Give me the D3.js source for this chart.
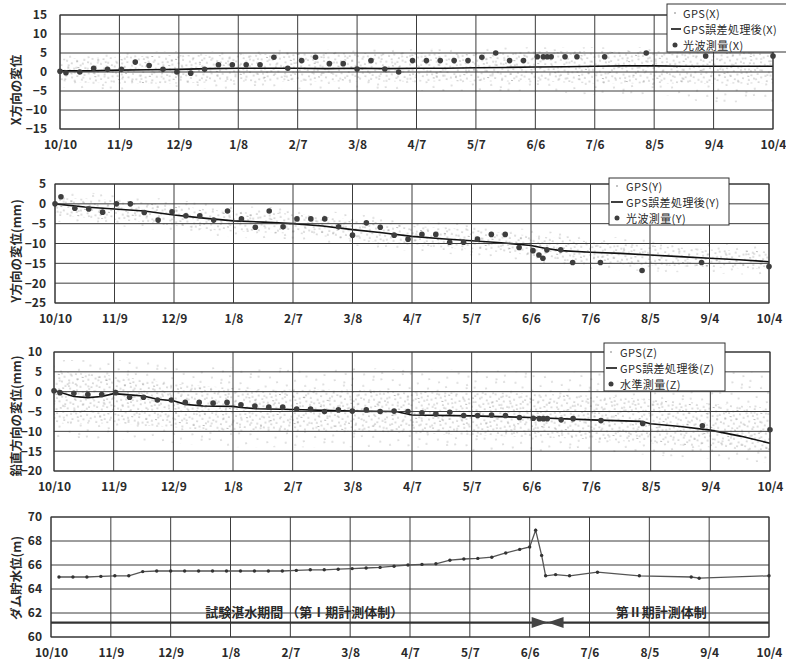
<!DOCTYPE html>
<html>
<head>
<meta charset="utf-8">
<script src="https://cdnjs.cloudflare.com/ajax/libs/d3/7.8.5/d3.min.js"></script>
<style>
  body { margin: 0; background: #fff; }
  svg text { font-family: "Noto Sans CJK JP", "DejaVu Sans", sans-serif; fill: #2a2a2a; }
</style>
</head>
<body>
<div id="chart"></div>
<script>
// x tick labels (every 30 days, 2003/10/10 - 2004/10/4)
const tickLabels = ["10/10", "11/9", "12/9", "1/8", "2/7", "3/8", "4/7", "5/7", "6/6", "7/6", "8/5", "9/4", "10/4"];

// raw GPS scatter, read as envelopes at each tick date
const xCloudHi = [3.5, 4, 4.5, 4.5, 5, 5, 5, 5, 5.5, 5.5, 5.5, 5.5, 5.5];
const xCloudLo = [-2.5, -3, -3, -2.5, -2.5, -2.5, -2.5, -2.5, -2.5, -3, -3, -3, -3];
const xCloudHiW = [4.5, 5, 5.5, 5.5, 6, 6, 6, 6.5, 6.5, 6.5, 6.5, 6.5, 6.5];
const xCloudLoW = [-4, -5, -4.5, -4.5, -4.5, -4.5, -5, -5, -5, -6, -6, -8, -8];

const yCloudHi = [1.5, 1, -0.5, -2, -2.5, -4, -5.5, -6.5, -8, -9.5, -10.5, -11.5, -12];
const yCloudLo = [-3, -4, -5.5, -7, -7.5, -9, -10.5, -11.5, -13, -15, -15.5, -16, -16.5];
const yCloudHiW = [3, 2.5, 1, -0.5, -1, -2.5, -4, -5, -6.5, -8, -9, -10, -10.5];
const yCloudLoW = [-4.5, -5.5, -7, -8.5, -9, -10.5, -12, -13, -14.5, -16.5, -17, -17.5, -18];

const zCloudHi = [5, 4, 2, 1, 0.5, 0.5, 0, 0, -0.5, -1, -2, -3, -4];
const zCloudLo = [-8, -8, -9, -10, -10, -10, -10.5, -11, -11.5, -12, -13, -14, -15];
const zCloudHiW = [8, 8, 7, 6, 6, 6, 5.5, 5.5, 5, 5, 5, 5, 5];
const zCloudLoW = [-12, -12, -13, -14, -14, -14, -14, -15, -15, -15, -16, -17, -18];

// GPS after error processing
const xLineDates = ["10/10", "10/25", "11/9", "11/24", "12/9", "12/24", "1/8", "1/23", "2/7", "2/22", "3/8", "3/23", "4/7", "4/22", "5/7", "5/22", "6/6", "6/21", "7/6", "7/21", "8/5", "8/20", "9/4", "9/19", "10/4"];
const xLine = [0.3, 0.3, 0.5, 0.6, 0.7, 0.9, 1.0, 1.0, 1.0, 0.9, 1.0, 0.9, 1.0, 1.0, 1.1, 1.2, 1.3, 1.4, 1.5, 1.6, 1.6, 1.5, 1.5, 1.5, 1.5];

const yLineDates = ["10/10", "10/25", "11/9", "11/24", "12/9", "12/24", "1/8", "1/23", "2/7", "2/22", "3/8", "3/23", "4/7", "4/22", "5/7", "5/22", "6/6", "6/13", "6/21", "7/6", "7/21", "8/5", "8/20", "9/4", "9/19", "10/4"];
const yLine = [0, -0.8, -1.3, -1.8, -2.8, -3.6, -4.3, -4.6, -5.0, -5.6, -6.5, -7.3, -8.2, -8.8, -9.3, -9.8, -10.5, -11.2, -11.8, -12.2, -12.5, -12.9, -13.3, -13.7, -14.1, -14.6];

const zLineDates = ["10/10", "10/20", "10/27", "11/3", "11/9", "11/17", "11/24", "12/1", "12/9", "12/15", "12/24", "1/8", "1/12", "1/20", "2/7", "3/8", "3/30", "4/7", "5/7", "6/6", "7/6", "7/31", "8/5", "8/20", "9/4", "9/19", "10/4"];
const zLine = [0.3, -1.2, -1.5, -1.2, -0.5, -0.8, -1.1, -1.9, -2.3, -3.2, -3.6, -3.7, -4.0, -4.3, -4.5, -4.9, -5.0, -5.9, -6.1, -6.5, -7.1, -7.5, -8.1, -8.8, -9.7, -11.2, -13];

// survey points (光波測量 / 水準測量)
const surveyDates = ["10/10", "10/13", "10/20", "10/27", "11/3", "11/10", "11/17", "11/24", "12/1", "12/8", "12/15", "12/22", "12/29", "1/5", "1/12", "1/19", "1/26", "2/2", "2/9", "2/16", "2/23", "3/1", "3/8", "3/15", "3/22", "3/29", "4/5", "4/12", "4/19", "4/26", "5/3", "5/10", "5/17", "5/24", "5/31", "6/7", "6/10", "6/12", "6/14", "6/21", "6/27", "7/11", "8/1", "8/31", "10/4"];
const xSurvey = [0.2, -0.2, 0, 1.0, 0.7, 0.7, 2.6, 1.7, 0.7, 0, -0.3, 0.7, 1.9, 1.9, 1.9, 1.9, 3.9, 1.0, 3.0, 3.9, 2.2, 2.2, 0.8, 3.0, 0.8, 0, 3.0, 3.0, 3.0, 3.0, 3.0, 3.9, 5.0, 3.0, 3.0, 4.0, 4.0, 4.0, 4.0, 4.0, 4.0, 4.0, 5.0, 4.2, 4.2];
const ySurvey = [0, 1.8, -1.1, -1.3, -2.1, 0, 0, -2.2, -4.1, -2.0, -3.0, -3.0, -4.1, -1.8, -3.8, -5.9, -1.8, -5.8, -3.8, -3.8, -3.8, -5.8, -7.9, -4.8, -5.9, -7.9, -8.9, -7.7, -7.7, -9.7, -9.7, -8.9, -7.7, -7.7, -11.0, -11.8, -12.9, -13.7, -11.6, -11.6, -14.8, -14.8, -16.8, -14.8, -15.8];
const zSurvey = [0.25, -0.25, -0.4, -0.7, -0.7, -0.25, -1.4, -1.4, -2.1, -2.1, -2.7, -2.7, -2.9, -2.7, -3.3, -3.6, -3.9, -3.9, -4.4, -4.4, -5.0, -4.6, -4.9, -4.6, -5.0, -4.9, -5.0, -5.3, -5.6, -5.2, -6.0, -6.0, -5.9, -6.0, -6.5, -6.7, -6.8, -6.8, -6.8, -7.1, -6.8, -7.3, -8.0, -8.6, -9.6];

// reservoir water level (m)
const levelDates = ["10/14", "10/21", "10/28", "11/4", "11/11", "11/18", "11/25", "12/2", "12/9", "12/16", "12/23", "12/30", "1/6", "1/13", "1/20", "1/27", "2/3", "2/10", "2/17", "2/24", "3/2", "3/9", "3/16", "3/23", "3/30", "4/6", "4/13", "4/20", "4/27", "5/4", "5/11", "5/18", "5/25", "6/1", "6/6", "6/9", "6/12", "6/14", "6/19", "6/26", "7/10", "7/31", "8/26", "8/30", "10/4"];
const levels = [65.0, 65.0, 65.0, 65.05, 65.1, 65.1, 65.45, 65.5, 65.5, 65.5, 65.5, 65.5, 65.5, 65.5, 65.5, 65.5, 65.5, 65.55, 65.6, 65.6, 65.65, 65.7, 65.75, 65.8, 65.9, 66.0, 66.05, 66.1, 66.4, 66.5, 66.55, 66.65, 67.0, 67.3, 67.5, 68.9, 66.8, 65.1, 65.2, 65.1, 65.4, 65.1, 65.0, 64.9, 65.1];

const parseMD = (s) => {
  const [m, d] = s.split("/").map(Number);
  const yr = m > 10 || (m === 10 && d >= 10) ? 2003 : 2004;
  return new Date(yr, m - 1, d);
};

const width = 786;
const height = 663;

let svg = d3
  .select("#chart")
  .append("svg")
  .attr("width", width)
  .attr("height", height)
  .style("background-color", "white");

let defs = svg.append("defs");

// stipple patterns for the raw GPS cloud (irregular dot tiles)
let makePattern = (id, w, h, rot, r, color, dots) => {
  let pat = defs
    .append("pattern")
    .attr("id", id)
    .attr("patternUnits", "userSpaceOnUse")
    .attr("width", w)
    .attr("height", h)
    .attr("patternTransform", "rotate(" + rot + ")");
  dots.forEach(([cx, cy]) =>
    pat.append("circle").attr("cx", cx).attr("cy", cy).attr("r", r).attr("fill", color)
  );
};
makePattern("dense", 24, 20, 7, 0.6, "#6a6a6a", [
  [1, 2], [6, 1], [11, 3], [17, 1], [21, 4], [3, 7], [9, 8], [14, 6], [19, 9], [23, 11],
  [2, 12], [7, 14], [12, 11], [16, 15], [21, 17], [4, 18], [10, 19], [14, 17.5], [18, 13], [8, 4.5],
]);
makePattern("sparse", 30, 26, -11, 0.6, "#7a7a7a", [
  [2, 3], [13, 6], [24, 2], [7, 14], [19, 12], [28, 17], [4, 23], [16, 21], [25, 25],
]);

let drawFrame = (cfg) => {
  let x = d3
    .scaleTime()
    .domain([parseMD("10/10"), parseMD("10/4")])
    .range([cfg.left, cfg.right]);
  let y = d3
    .scaleLinear()
    .domain(cfg.yDomain)
    .range([cfg.bottom, cfg.top]);
  let yTicks = d3.range(cfg.yDomain[0], cfg.yDomain[1] + 0.001, cfg.step);
  let tickDates = tickLabels.map(parseMD);

  let g = svg.append("g");

  // clip for the plot area
  defs
    .append("clipPath")
    .attr("id", "clip" + cfg.id)
    .append("rect")
    .attr("x", cfg.left)
    .attr("y", cfg.top)
    .attr("width", cfg.right - cfg.left)
    .attr("height", cfg.bottom - cfg.top);

  let plot = g.append("g").attr("clip-path", "url(#clip" + cfg.id + ")");

  // axes
  g.append("g")
    .attr("transform", "translate(0," + cfg.bottom + ")")
    .call(
      d3
        .axisBottom(x)
        .tickValues(tickDates)
        .tickFormat(d3.timeFormat("%-m/%-d"))
        .tickSize(0)
        .tickPadding(11)
    )
    .call((a) => a.select(".domain").remove())
    .selectAll("text")
    .style("font-size", "12px")
    .style("font-weight", "bold");

  g.append("g")
    .attr("transform", "translate(" + cfg.left + ",0)")
    .call(d3.axisLeft(y).tickValues(yTicks).tickSize(0).tickPadding(cfg.pad))
    .call((a) => a.select(".domain").remove())
    .selectAll("text")
    .style("font-size", "12px")
    .style("font-weight", "bold");

  // y title
  g.append("text")
    .attr("transform", "translate(15," + cfg.titleY + ") rotate(-90)")
    .attr("text-anchor", "middle")
    .attr("dominant-baseline", "central")
    .style("font-size", "12.5px")
    .style("font-weight", "bold")
    .text(cfg.title);

  return { x, y, g, plot, yTicks, tickDates };
};

let drawGrid = (p, cfg) => {
  let grid = p.g.append("g").attr("stroke", "#3c3c3c").attr("stroke-width", 1);
  grid
    .selectAll("line.h")
    .data(p.yTicks)
    .enter()
    .append("line")
    .attr("x1", cfg.left)
    .attr("x2", cfg.right)
    .attr("y1", (d) => p.y(d))
    .attr("y2", (d) => p.y(d));
  grid
    .selectAll("line.v")
    .data(p.tickDates)
    .enter()
    .append("line")
    .attr("x1", (d) => p.x(d))
    .attr("x2", (d) => p.x(d))
    .attr("y1", cfg.top)
    .attr("y2", cfg.bottom);
  p.g.append("rect")
    .attr("x", cfg.left)
    .attr("y", cfg.top)
    .attr("width", cfg.right - cfg.left)
    .attr("height", cfg.bottom - cfg.top)
    .attr("fill", "none")
    .attr("stroke", "#333");
};

let drawGpsPanel = (cfg) => {
  let p = drawFrame(cfg);
  let nodes = tickLabels.map(parseMD);

  // raw GPS cloud: wide sparse band, then dense inner band
  let band = (lo, hi) =>
    d3
      .area()
      .x((d, i) => p.x(nodes[i]))
      .y0((d, i) => p.y(lo[i]))
      .y1((d, i) => p.y(hi[i]))
      .curve(d3.curveMonotoneX)(nodes);
  p.plot.append("path").attr("d", band(cfg.cloudLoW, cfg.cloudHiW)).attr("fill", "url(#sparse)");
  p.plot.append("path").attr("d", band(cfg.cloudLo, cfg.cloudHi)).attr("fill", "url(#dense)");

  drawGrid(p, cfg);

  // processed GPS line
  let lineData = cfg.lineDates.map((d, i) => [parseMD(d), cfg.line[i]]);
  p.plot
    .append("path")
    .datum(lineData)
    .attr("fill", "none")
    .attr("stroke", "#111")
    .attr("stroke-width", 1.6)
    .attr("d", d3.line().x((d) => p.x(d[0])).y((d) => p.y(d[1])));

  // survey points
  p.g
    .selectAll("circle.survey")
    .data(surveyDates.map((d, i) => [parseMD(d), cfg.survey[i]]))
    .enter()
    .append("circle")
    .attr("cx", (d) => p.x(d[0]))
    .attr("cy", (d) => p.y(d[1]))
    .attr("r", 2.8)
    .attr("fill", "#3e3e3e");

  // legend
  let L = cfg.legend;
  let lg = p.g.append("g");
  lg.append("rect")
    .attr("x", L.x)
    .attr("y", L.y)
    .attr("width", L.w)
    .attr("height", L.h)
    .attr("fill", "white")
    .attr("stroke", "#333");
  lg.append("circle").attr("cx", L.dotX).attr("cy", L.rows[0]).attr("r", 0.8).attr("fill", "#777");
  lg.append("line")
    .attr("x1", L.lineX[0])
    .attr("x2", L.lineX[1])
    .attr("y1", L.rows[1])
    .attr("y2", L.rows[1])
    .attr("stroke", "#111")
    .attr("stroke-width", 1.6);
  lg.append("circle").attr("cx", L.dotX).attr("cy", L.rows[2]).attr("r", 2.5).attr("fill", "#3e3e3e");
  lg.selectAll("text")
    .data(L.labels)
    .enter()
    .append("text")
    .attr("x", L.textX)
    .attr("y", (d, i) => L.rows[i])
    .attr("dominant-baseline", "central")
    .style("font-size", "11px")
    .style("letter-spacing", "0.4px")
    .text((d) => d);
};

drawGpsPanel({
  id: 1, left: 60, right: 773, top: 15, bottom: 129,
  yDomain: [-15, 15], step: 5, pad: 13,
  title: "X方向の変位", titleY: 90,
  cloudHi: xCloudHi, cloudLo: xCloudLo, cloudHiW: xCloudHiW, cloudLoW: xCloudLoW,
  lineDates: xLineDates, line: xLine, survey: xSurvey,
  legend: { x: 667, y: 4, w: 125, h: 48, textX: 683, dotX: 675, lineX: [671, 681], rows: [13, 29, 45],
    labels: ["GPS(X)", "GPS誤差処理後(X)", "光波測量(X)"] },
});

drawGpsPanel({
  id: 2, left: 55, right: 769, top: 184, bottom: 303,
  yDomain: [-25, 5], step: 5, pad: 9,
  title: "Y方向の変位(mm)", titleY: 251,
  cloudHi: yCloudHi, cloudLo: yCloudLo, cloudHiW: yCloudHiW, cloudLoW: yCloudLoW,
  lineDates: yLineDates, line: yLine, survey: ySurvey,
  legend: { x: 609, y: 178, w: 120, h: 47, textX: 626, dotX: 617, lineX: [611, 623], rows: [186, 202, 218],
    labels: ["GPS(Y)", "GPS誤差処理後(Y)", "光波測量(Y)"] },
});

drawGpsPanel({
  id: 3, left: 54, right: 770, top: 352, bottom: 471,
  yDomain: [-20, 10], step: 5, pad: 12,
  title: "鉛直方向の変位(mm)", titleY: 416,
  cloudHi: zCloudHi, cloudLo: zCloudLo, cloudHiW: zCloudHiW, cloudLoW: zCloudLoW,
  lineDates: zLineDates, line: zLine, survey: zSurvey,
  legend: { x: 604, y: 343, w: 121, h: 48, textX: 620, dotX: 611, lineX: [606, 617], rows: [352, 368, 384],
    labels: ["GPS(Z)", "GPS誤差処理後(Z)", "水準測量(Z)"] },
});

// water level panel
let cfg4 = {
  id: 4, left: 51, right: 769, top: 517, bottom: 637,
  yDomain: [60, 70], step: 2, pad: 9,
  title: "ダム貯水位(m)", titleY: 578,
};
let p4 = drawFrame(cfg4);
drawGrid(p4, cfg4);

// measurement period bar
const periodLevel = 61.2;
const switchStart = "6/7", switchMid = "6/15", switchEnd = "6/23";
const labelLevel = 62.1;

let py = p4.y(periodLevel);
p4.g.append("line")
  .attr("x1", cfg4.left)
  .attr("x2", cfg4.right)
  .attr("y1", py)
  .attr("y2", py)
  .attr("stroke", "#333")
  .attr("stroke-width", 2.4);

let xs = p4.x(parseMD(switchStart)), xm = p4.x(parseMD(switchMid)), xe = p4.x(parseMD(switchEnd));
p4.g.append("path")
  .attr("d", `M${xs},${py - 5.5}L${xm},${py}L${xs},${py + 5.5}Z M${xe},${py - 5.5}L${xm},${py}L${xe},${py + 5.5}Z`)
  .attr("fill", "#444");

p4.g.append("text")
  .attr("x", p4.x(parseMD("2/14")))
  .attr("y", p4.y(labelLevel))
  .attr("text-anchor", "middle")
  .attr("dominant-baseline", "central")
  .style("font-size", "13px")
  .style("font-weight", "bold")
  .text("試験湛水期間 （第Ⅰ期計測体制）");

p4.g.append("text")
  .attr("x", p4.x(parseMD("8/11")))
  .attr("y", p4.y(labelLevel))
  .attr("text-anchor", "middle")
  .attr("dominant-baseline", "central")
  .style("font-size", "13px")
  .style("font-weight", "bold")
  .text("第Ⅱ期計測体制");

let levelData = levelDates.map((d, i) => [parseMD(d), levels[i]]);
p4.g.append("path")
  .datum(levelData)
  .attr("fill", "none")
  .attr("stroke", "#555")
  .attr("stroke-width", 1.3)
  .attr("d", d3.line().x((d) => p4.x(d[0])).y((d) => p4.y(d[1])));
p4.g.selectAll("circle.lv")
  .data(levelData)
  .enter()
  .append("circle")
  .attr("cx", (d) => p4.x(d[0]))
  .attr("cy", (d) => p4.y(d[1]))
  .attr("r", 1.7)
  .attr("fill", "#333");
</script>
</body>
</html>
